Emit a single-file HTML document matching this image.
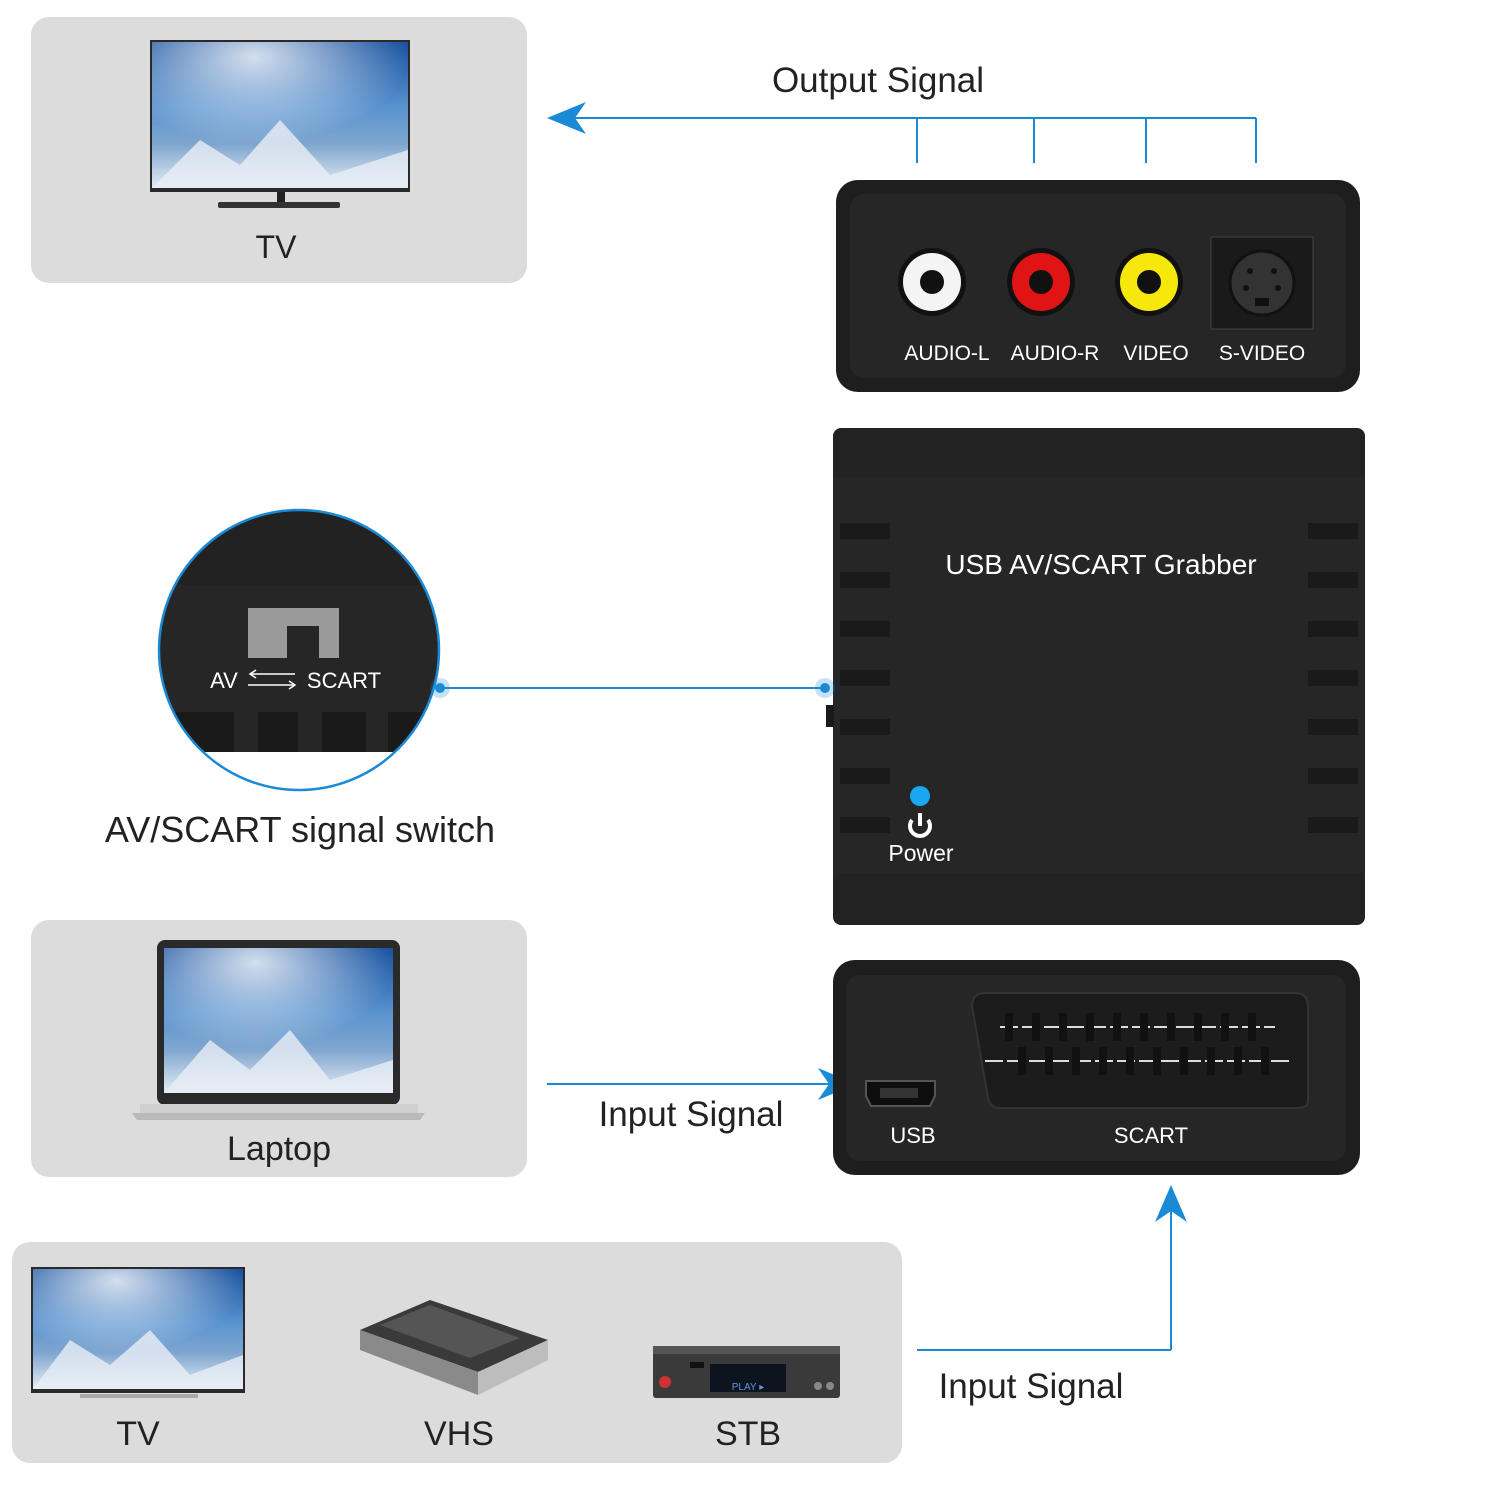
<!DOCTYPE html>
<html><head><style>
html,body{margin:0;padding:0;background:#fff;}
svg{display:block;}
text{font-family:"Liberation Sans",Arial,sans-serif;}
</style></head><body>
<svg width="1500" height="1500" viewBox="0 0 1500 1500" xmlns="http://www.w3.org/2000/svg">
<defs>
<linearGradient id="scr" x1="0" y1="0" x2="0" y2="1">
<stop offset="0" stop-color="#17509e"/><stop offset="0.45" stop-color="#5a93cf"/><stop offset="0.7" stop-color="#7fa6cf"/><stop offset="1" stop-color="#e4ecf5"/>
</linearGradient>
<radialGradient id="glow" cx="0.4" cy="0.1" r="0.6"><stop offset="0" stop-color="#fff" stop-opacity="0.8"/><stop offset="1" stop-color="#fff" stop-opacity="0"/></radialGradient>
<clipPath id="cc"><circle cx="299" cy="650" r="140"/></clipPath>
</defs>

<rect x="31" y="17" width="496" height="266" rx="18" fill="#dcdcdc"/>
<rect x="31" y="920" width="496" height="257" rx="18" fill="#dcdcdc"/>
<rect x="12" y="1242" width="890" height="221" rx="18" fill="#dcdcdc"/>

<rect x="150" y="40" width="260" height="152" fill="#2a2a2a"/>
<rect x="152" y="42" width="256" height="146" fill="url(#scr)"/>
<rect x="152" y="42" width="256" height="146" fill="url(#glow)"/>
<polygon points="152,188 200,140 240,165 280,120 330,175 408,150 408,188" fill="#e8eef5" opacity="0.8"/>
<rect x="277" y="192" width="8" height="10" fill="#222"/>
<rect x="218" y="202" width="122" height="6" rx="2" fill="#333"/>
<text x="276" y="258" font-size="32" text-anchor="middle" fill="#222">TV</text>

<rect x="157" y="940" width="243" height="165" rx="8" fill="#2a2a2a"/>
<rect x="164" y="948" width="229" height="145" fill="url(#scr)"/>
<rect x="164" y="948" width="229" height="145" fill="url(#glow)"/>
<polygon points="164,1093 210,1040 250,1070 290,1030 330,1080 393,1060 393,1093" fill="#e8eef5" opacity="0.8"/>
<path d="M132 1113 L425 1113 L420 1120 L137 1120 Z" fill="#b9b9b9"/>
<rect x="140" y="1104" width="278" height="9" fill="#cfcfcf"/>
<text x="279" y="1160" font-size="34" text-anchor="middle" fill="#222">Laptop</text>

<rect x="31" y="1267" width="214" height="126" fill="#2a2a2a"/>
<rect x="33" y="1269" width="210" height="120" fill="url(#scr)"/>
<rect x="33" y="1269" width="210" height="120" fill="url(#glow)"/>
<polygon points="33,1389 70,1340 110,1365 150,1330 190,1375 243,1355 243,1389" fill="#e8eef5" opacity="0.8"/>
<rect x="80" y="1394" width="118" height="4" fill="#aaa"/>
<text x="138" y="1445" font-size="34" text-anchor="middle" fill="#222">TV</text>

<polygon points="360,1330 430,1300 548,1340 478,1372" fill="#3a3a3a"/>
<polygon points="360,1330 478,1372 478,1395 360,1350" fill="#8a8a8a"/>
<polygon points="478,1372 548,1340 548,1360 478,1395" fill="#bdbdbd"/>
<polygon points="380,1325 430,1305 520,1338 470,1358" fill="#555"/>
<text x="459" y="1445" font-size="34" text-anchor="middle" fill="#222">VHS</text>

<rect x="653" y="1346" width="187" height="52" rx="3" fill="#3a3a3a"/>
<rect x="653" y="1346" width="187" height="8" fill="#555"/>
<rect x="710" y="1364" width="76" height="28" fill="#0c1420"/>
<text x="748" y="1390" font-size="10" text-anchor="middle" fill="#6a8fd8">PLAY ▸</text>
<circle cx="665" cy="1382" r="6" fill="#c33"/>
<circle cx="818" cy="1386" r="4" fill="#888"/><circle cx="830" cy="1386" r="4" fill="#888"/>
<rect x="690" y="1362" width="14" height="6" fill="#111"/>
<text x="748" y="1445" font-size="34" text-anchor="middle" fill="#222">STB</text>

<g stroke="#1b8ad6" stroke-width="2" fill="none">
<line x1="570" y1="118" x2="1256" y2="118"/>
<line x1="917" y1="118" x2="917" y2="163"/>
<line x1="1034" y1="118" x2="1034" y2="163"/>
<line x1="1146" y1="118" x2="1146" y2="163"/>
<line x1="1256" y1="118" x2="1256" y2="163"/>
<line x1="440" y1="688" x2="825" y2="688"/>
<line x1="547" y1="1084" x2="830" y2="1084"/>
<line x1="917" y1="1350" x2="1171" y2="1350"/>
<line x1="1171" y1="1350" x2="1171" y2="1210"/>
</g>
<polygon points="547,118 586,102 575,118 586,134" fill="#1b8ad6"/>
<polygon points="856,1084 818,1068 829,1084 818,1100" fill="#1b8ad6"/>
<polygon points="1171,1185 1155,1222 1171,1211 1187,1222" fill="#1b8ad6"/>
<text x="878" y="92" font-size="35" text-anchor="middle" fill="#222">Output Signal</text>
<text x="691" y="1126" font-size="35" text-anchor="middle" fill="#222">Input Signal</text>
<text x="1031" y="1398" font-size="35" text-anchor="middle" fill="#222">Input Signal</text>

<rect x="836" y="180" width="524" height="212" rx="22" fill="#1e1e1e"/>
<rect x="850" y="194" width="496" height="184" rx="14" fill="#262626"/>
<circle cx="932" cy="282" r="34" fill="#111"/><circle cx="932" cy="282" r="29" fill="#f4f4f4"/><circle cx="932" cy="282" r="12" fill="#111"/>
<circle cx="1041" cy="282" r="34" fill="#111"/><circle cx="1041" cy="282" r="29" fill="#e01414"/><circle cx="1041" cy="282" r="12" fill="#111"/>
<circle cx="1149" cy="282" r="34" fill="#111"/><circle cx="1149" cy="282" r="29" fill="#f5e80a"/><circle cx="1149" cy="282" r="12" fill="#111"/>
<rect x="1211" y="237" width="102" height="92" fill="#1a1a1a" stroke="#444"/>
<circle cx="1262" cy="283" r="32" fill="#333" stroke="#111" stroke-width="3"/>
<circle cx="1250" cy="271" r="3" fill="#111"/><circle cx="1274" cy="271" r="3" fill="#111"/><circle cx="1246" cy="288" r="3" fill="#111"/><circle cx="1278" cy="288" r="3" fill="#111"/>
<rect x="1255" y="298" width="14" height="8" fill="#111"/>
<g font-size="21" fill="#fff" text-anchor="middle">
<text x="947" y="360">AUDIO-L</text><text x="1055" y="360">AUDIO-R</text><text x="1156" y="360">VIDEO</text><text x="1262" y="360">S-VIDEO</text>
</g>

<rect x="833" y="428" width="532" height="497" rx="8" fill="#232323"/>
<rect x="833" y="478" width="532" height="395" fill="#262626"/>
<g fill="#1a1a1a">
<rect x="840" y="523" width="50" height="16"/><rect x="840" y="572" width="50" height="16"/><rect x="840" y="621" width="50" height="16"/><rect x="840" y="670" width="50" height="16"/><rect x="840" y="719" width="50" height="16"/><rect x="840" y="768" width="50" height="16"/><rect x="840" y="817" width="50" height="16"/>
<rect x="1308" y="523" width="50" height="16"/><rect x="1308" y="572" width="50" height="16"/><rect x="1308" y="621" width="50" height="16"/><rect x="1308" y="670" width="50" height="16"/><rect x="1308" y="719" width="50" height="16"/><rect x="1308" y="768" width="50" height="16"/><rect x="1308" y="817" width="50" height="16"/>
</g>
<rect x="826" y="705" width="8" height="22" fill="#1a1a1a"/>
<text x="1101" y="574" font-size="28" fill="#fff" text-anchor="middle">USB AV/SCART Grabber</text>
<circle cx="920" cy="796" r="10" fill="#18a7f0"/>
<path d="M912 820 A10 10 0 1 0 928 820" stroke="#fff" stroke-width="4" fill="none"/>
<line x1="920" y1="813" x2="920" y2="826" stroke="#fff" stroke-width="4"/>
<text x="921" y="861" font-size="23" fill="#fff" text-anchor="middle">Power</text>

<rect x="833" y="960" width="527" height="215" rx="22" fill="#1e1e1e"/>
<rect x="846" y="975" width="500" height="186" rx="14" fill="#262626"/>
<path d="M985 993 L1295 993 Q1308 993 1308 1006 L1308 1100 Q1308 1108 1298 1108 L1000 1108 Q990 1108 988 1098 L972 1006 Q972 993 985 993 Z" fill="#1c1c1c" stroke="#333" stroke-width="2"/>
<g stroke="#ddd" stroke-width="2" stroke-dasharray="18 4"><line x1="1000" y1="1027" x2="1275" y2="1027"/><line x1="985" y1="1061" x2="1290" y2="1061"/></g>
<g fill="#111">
<rect x="1005" y="1013" width="8" height="28"/><rect x="1032" y="1013" width="8" height="28"/><rect x="1059" y="1013" width="8" height="28"/><rect x="1086" y="1013" width="8" height="28"/><rect x="1113" y="1013" width="8" height="28"/><rect x="1140" y="1013" width="8" height="28"/><rect x="1167" y="1013" width="8" height="28"/><rect x="1194" y="1013" width="8" height="28"/><rect x="1221" y="1013" width="8" height="28"/><rect x="1248" y="1013" width="8" height="28"/>
<rect x="1018" y="1047" width="8" height="28"/><rect x="1045" y="1047" width="8" height="28"/><rect x="1072" y="1047" width="8" height="28"/><rect x="1099" y="1047" width="8" height="28"/><rect x="1126" y="1047" width="8" height="28"/><rect x="1153" y="1047" width="8" height="28"/><rect x="1180" y="1047" width="8" height="28"/><rect x="1207" y="1047" width="8" height="28"/><rect x="1234" y="1047" width="8" height="28"/><rect x="1261" y="1047" width="8" height="28"/>
</g>
<path d="M866 1081 L935 1081 L935 1096 L930 1106 L871 1106 L866 1096 Z" fill="#0e0e0e" stroke="#555" stroke-width="2"/>
<rect x="880" y="1088" width="38" height="10" fill="#333"/>
<text x="913" y="1143" font-size="22" fill="#fff" text-anchor="middle">USB</text>
<text x="1151" y="1143" font-size="22" fill="#fff" text-anchor="middle">SCART</text>

<g clip-path="url(#cc)">
<rect x="150" y="500" width="300" height="300" fill="#262626"/>
<rect x="150" y="500" width="300" height="85" fill="#222"/>
<rect x="248" y="608" width="91" height="50" fill="#9a9a9a"/>
<rect x="287" y="626" width="32" height="32" fill="#262626"/>
<text x="224" y="688" font-size="22" fill="#fff" text-anchor="middle">AV</text>
<text x="344" y="688" font-size="22" fill="#fff" text-anchor="middle">SCART</text>
<g stroke="#fff" stroke-width="1.5" fill="none"><line x1="250" y1="674" x2="295" y2="674"/><path d="M256 670 L250 674 L256 678"/><line x1="248" y1="685" x2="295" y2="685"/><path d="M289 681 L295 685 L289 689"/></g>
<rect x="150" y="748" width="300" height="60" fill="#fff"/>
<g fill="#1a1a1a"><rect x="150" y="712" width="84" height="40"/><rect x="258" y="712" width="40" height="40"/><rect x="322" y="712" width="44" height="40"/><rect x="388" y="712" width="60" height="40"/></g>
<g fill="#262626"><rect x="234" y="712" width="24" height="40"/><rect x="298" y="712" width="24" height="40"/><rect x="366" y="712" width="22" height="40"/></g>
</g>
<circle cx="299" cy="650" r="140" fill="none" stroke="#1b8ad6" stroke-width="2.5"/>
<circle cx="440" cy="688" r="10" fill="#1b8ad6" opacity="0.25"/><circle cx="440" cy="688" r="5" fill="#1b8ad6"/>
<circle cx="825" cy="688" r="10" fill="#1b8ad6" opacity="0.25"/><circle cx="825" cy="688" r="5" fill="#1b8ad6"/>
<text x="300" y="842" font-size="36" text-anchor="middle" fill="#222">AV/SCART signal switch</text>
</svg>
</body></html>
